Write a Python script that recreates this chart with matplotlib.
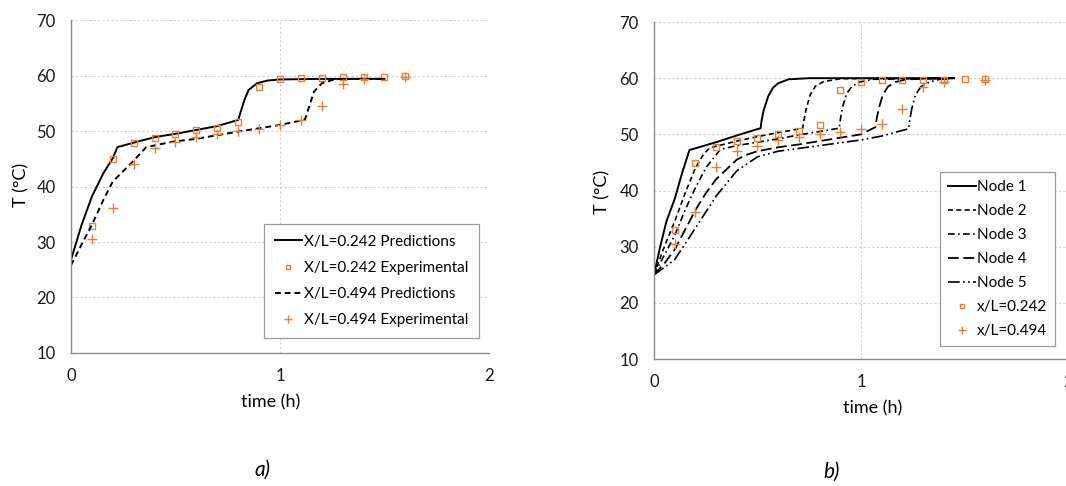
import matplotlib
matplotlib.use('Agg')
import matplotlib.pyplot as plt

plt.rcParams['font.family'] = ['Lato', 'DejaVu Sans']

orange = '#ED7D31'

# experimental data (both panels)
t_exp = [0.1, 0.2, 0.3, 0.4, 0.5, 0.6, 0.7, 0.8, 0.9, 1.0, 1.1, 1.2, 1.3, 1.4, 1.5, 1.6]
T_exp_242 = [32.9, 44.9, 47.8, 48.8, 49.4, 50.1, 50.6, 51.7, 57.9, 59.3, 59.6, 59.6, 59.7, 59.7, 59.8, 59.9]
t_exp2 = [0.1, 0.2, 0.3, 0.4, 0.5, 0.6, 0.7, 0.8, 0.9, 1.0, 1.1, 1.2, 1.3, 1.4, 1.6]
T_exp_494 = [30.5, 36.1, 44.1, 47.0, 48.0, 49.0, 49.5, 50.0, 50.4, 51.0, 51.9, 54.6, 58.4, 59.4, 59.7]

# panel a) predictions
t_pred_242 = [0, 0.05, 0.1, 0.155, 0.2, 0.222, 0.3, 0.4, 0.5, 0.6, 0.7, 0.8, 0.81, 0.83, 0.85,
              0.89, 0.94, 1.0, 1.2, 1.5]
T_pred_242 = [26.8, 33.0, 38.2, 42.4, 45.1, 47.1, 47.9, 48.9, 49.5, 50.2, 50.9, 52.0, 53.2, 55.6, 57.4,
              58.6, 59.1, 59.3, 59.4, 59.4]
t_pred_494 = [0, 0.05, 0.1, 0.155, 0.2, 0.296, 0.36, 0.49, 0.6, 0.8, 1.0, 1.1, 1.12, 1.14, 1.163,
              1.2, 1.26, 1.3, 1.5]
T_pred_494 = [25.8, 29.5, 33.1, 37.6, 40.9, 44.5, 47.1, 48.1, 48.6, 49.9, 51.1, 51.9, 52.1, 54.4, 57.1,
              58.6, 59.3, 59.4, 59.4]

# panel b) nodes
t_n1 = [0, 0.03, 0.06, 0.1, 0.135, 0.171, 0.3, 0.4, 0.515, 0.52, 0.53, 0.552, 0.575, 0.6, 0.65, 0.75, 1.45]
T_n1 = [25.0, 30.0, 34.5, 38.5, 43.0, 47.2, 48.6, 49.8, 51.1, 52.5, 54.3, 56.8, 58.3, 59.1, 59.8, 60.0, 60.0]
t_n2 = [0, 0.05, 0.1, 0.15, 0.2, 0.24, 0.27, 0.4, 0.5, 0.6, 0.718, 0.725, 0.735, 0.754, 0.78, 0.82, 0.9, 1.45]
T_n2 = [25.0, 30.0, 34.5, 39.5, 44.0, 46.5, 47.6, 48.8, 49.6, 50.3, 51.1, 52.6, 54.5, 57.0, 58.6, 59.4, 59.9, 60.0]
t_n3 = [0, 0.05, 0.1, 0.15, 0.2, 0.25, 0.32, 0.4, 0.5, 0.6, 0.7, 0.8, 0.895, 0.9, 0.91, 0.93, 0.955, 0.99, 1.06, 1.45]
T_n3 = [25.0, 28.5, 32.0, 36.5, 40.5, 44.0, 47.3, 48.0, 48.6, 49.2, 49.9, 50.5, 51.1, 52.6, 54.8, 57.2, 58.5, 59.3, 59.8, 60.0]
t_n4 = [0, 0.05, 0.1, 0.15, 0.2, 0.25, 0.3, 0.4, 0.45, 0.5, 0.6, 0.7, 0.8, 0.9, 1.0, 1.07, 1.075, 1.085,
        1.105, 1.13, 1.165, 1.22, 1.45]
T_n4 = [25.0, 27.0, 29.5, 33.0, 36.5, 39.5, 42.0, 45.5, 46.4, 47.0, 47.7, 48.2, 48.8, 49.4, 50.0, 51.3, 52.6, 54.5,
        57.0, 58.5, 59.3, 59.8, 60.0]
t_n5 = [0, 0.05, 0.1, 0.2, 0.3, 0.4, 0.5, 0.6, 0.7, 0.8, 0.9, 1.0, 1.1, 1.23, 1.235, 1.245, 1.262, 1.29, 1.33, 1.38, 1.45]
T_n5 = [25.0, 26.3, 27.7, 33.3, 39.0, 43.5, 46.0, 47.0, 47.5, 48.0, 48.5, 49.0, 49.7, 51.0, 52.5, 54.5, 57.0, 58.5,
        59.3, 59.8, 60.0]


def style_axes(ax):
    ax.set_xlim(0, 2)
    ax.set_ylim(10, 70)
    ax.set_xticks([0, 1, 2])
    ax.set_yticks([10, 20, 30, 40, 50, 60, 70])
    for s in ['top', 'right']:
        ax.spines[s].set_visible(False)
    for s in ['left', 'bottom']:
        ax.spines[s].set_color('#8c8c8c')
        ax.spines[s].set_linewidth(1.0)
    ax.grid(True, color='#d0d0d0', linestyle=(0, (2, 2)), linewidth=0.8)
    ax.set_axisbelow(True)
    ax.tick_params(length=0, pad=11, labelsize=12, colors='#1a1a1a')
    ax.set_xlabel('time (h)', fontsize=13)
    ax.set_ylabel('T (°C)', fontsize=13)


fig = plt.figure(figsize=(10.66, 4.86), dpi=100)

# panel a)
ax1 = fig.add_axes([0.0666, 0.2737, 0.392, 0.685])
style_axes(ax1)
ax1.plot(t_pred_242, T_pred_242, color='black', lw=1.4, label='X/L=0.242 Predictions')
ax1.plot(t_exp, T_exp_242, ls='none', marker='s', ms=4.5, mfc='none', mec=orange, mew=1.0,
         label='X/L=0.242 Experimental')
ax1.plot(t_pred_494, T_pred_494, color='black', lw=1.4, ls=(0, (3, 2)), label='X/L=0.494 Predictions')
ax1.plot(t_exp2, T_exp_494, ls='none', marker='+', ms=7, mec=orange, mew=1.0,
         label='X/L=0.494 Experimental')
ax1.xaxis.set_label_coords(0.478, -0.123)
ax1.yaxis.set_label_coords(-0.100, 0.505)
leg1 = ax1.legend(loc='lower right', bbox_to_anchor=(0.976, 0.045), borderaxespad=0, fontsize=11,
                  fancybox=False, framealpha=1, edgecolor='#9a9a9a', labelspacing=0.8,
                  handlelength=1.8, handletextpad=0.1, borderpad=0.7, markerscale=0.75)
leg1.get_frame().set_linewidth(0.9)

# panel b)
ax2 = fig.add_axes([0.6135, 0.2613, 0.3884, 0.6934])
style_axes(ax2)
ax2.plot(t_n1, T_n1, color='black', lw=1.4, label='Node 1')
ax2.plot(t_n2, T_n2, color='black', lw=1.2, ls=(0, (3, 2)), label='Node 2')
ax2.plot(t_n3, T_n3, color='black', lw=1.2, ls=(0, (4, 2, 1, 2)), label='Node 3')
ax2.plot(t_n4, T_n4, color='black', lw=1.3, ls=(0, (6, 2.5)), label='Node 4')
ax2.plot(t_n5, T_n5, color='black', lw=1.2, ls=(0, (7, 2, 1, 2, 1, 2)), label='Node 5')
ax2.plot(t_exp, T_exp_242, ls='none', marker='s', ms=4.5, mfc='none', mec=orange, mew=1.0,
         label='x/L=0.242')
ax2.plot(t_exp2, T_exp_494, ls='none', marker='+', ms=7, mec=orange, mew=1.0, label='x/L=0.494')
ax2.xaxis.set_label_coords(0.529, -0.122)
ax2.yaxis.set_label_coords(-0.104, 0.496)
leg2 = ax2.legend(loc='lower right', bbox_to_anchor=(0.9686, 0.0386), borderaxespad=0, fontsize=11,
                  fancybox=False, framealpha=1, edgecolor='#9a9a9a', labelspacing=0.66,
                  handlelength=1.8, handletextpad=0.1, borderpad=0.5, markerscale=0.75)
leg2.get_frame().set_linewidth(0.9)

fig.text(262 / 1066, 1 - 470 / 486, 'a)', fontsize=15, style='italic', ha='center', va='center')
fig.text(832 / 1066, 1 - 472 / 486, 'b)', fontsize=15, style='italic', ha='center', va='center')

fig.savefig('out.png', dpi=100)
